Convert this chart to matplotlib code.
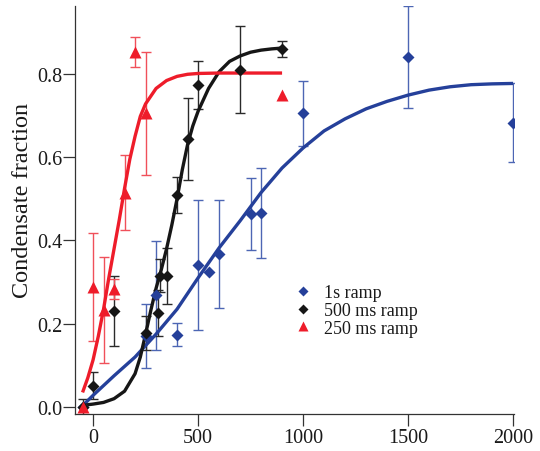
import numpy as np
import matplotlib
matplotlib.use("Agg")
import matplotlib.pyplot as plt

plt.rcParams['font.family'] = ['Liberation Serif', 'DejaVu Serif']

# ---------------- data ----------------
# 1 s ramp (blue diamonds)
x_1s = [-50, 250, 300, 400, 500, 550, 600, 750, 800, 1000, 1500, 2000]
y_1s = [0.0, 0.17, 0.268, 0.174, 0.341, 0.325, 0.367, 0.464, 0.466, 0.705, 0.840, 0.683]
e_1s = [0.0, 0.077, 0.13, 0.028, 0.156, 0.0, 0.13, 0.086, 0.108, 0.078, 0.123, 0.095]

# 500 ms ramp (black diamonds)
x_500 = [-50, 0, 100, 250, 310, 320, 350, 400, 450, 500, 700, 900]
y_500 = [0.0, 0.051, 0.231, 0.178, 0.226, 0.315, 0.315, 0.509, 0.643, 0.773, 0.810, 0.860]
e_500 = [0.02, 0.032, 0.084, 0.04, 0.056, 0.04, 0.068, 0.044, 0.098, 0.057, 0.104, 0.02]

# 250 ms ramp (red triangles)
x_250 = [-50, 0, 50, 100, 150, 200, 250, 900]
y_250 = [0.0, 0.288, 0.233, 0.283, 0.515, 0.853, 0.705, 0.749]
e_250 = [0.0, 0.129, 0.128, 0.024, 0.09, 0.036, 0.147, 0.0]

# fitted curves
fit1s_x = [-50, 0, 100, 200, 300, 400, 500, 600, 700, 800, 900, 1000, 1100,
           1200, 1300, 1400, 1500, 1600, 1700, 1800, 1900, 2000]
fit1s_y = [0.003, 0.028, 0.075, 0.12, 0.175, 0.235, 0.31, 0.382, 0.447, 0.515,
           0.574, 0.622, 0.663, 0.692, 0.716, 0.734, 0.749, 0.761, 0.769, 0.774,
           0.776, 0.777]

fit500_x = [-50, 0, 50, 100, 150, 200, 225, 250, 275, 300, 325, 350, 375, 400,
            425, 450, 475, 500, 550, 600, 650, 700, 750, 800, 850, 900]
fit500_y = [0.004, 0.007, 0.011, 0.02, 0.038, 0.08, 0.12, 0.175, 0.232, 0.285,
            0.33, 0.38, 0.437, 0.5, 0.57, 0.63, 0.675, 0.71, 0.765, 0.805, 0.83,
            0.843, 0.852, 0.857, 0.86, 0.862]

fit250_x = [-50, -25, 0, 25, 50, 75, 100, 125, 150, 175, 200, 225, 250, 300,
            350, 400, 450, 500, 600, 700, 800, 900]
fit250_y = [0.035, 0.07, 0.113, 0.17, 0.235, 0.31, 0.38, 0.45, 0.525, 0.595,
            0.65, 0.698, 0.728, 0.765, 0.784, 0.794, 0.799, 0.801, 0.802, 0.802,
            0.802, 0.802]

labels = ["1s ramp", "500 ms ramp", "250 ms ramp"]
xticks = [0, 500, 1000, 1500, 2000]
yticks = [0.0, 0.2, 0.4, 0.6, 0.8]

# ---------------- style ----------------
BLUE = '#25409a'
BLUE_E = '#4d66b4'
BLACK = '#161616'
BLACK_E = '#2a2a2a'
RED = '#ee1c2a'
RED_E = '#f0505a'

W, H = 540, 452
fig = plt.figure(figsize=(W / 100, H / 100), dpi=100)
ax = fig.add_axes([75 / W, (H - 414.5) / H, (513.5 - 75) / W, (414.5 - 7) / H])


def errbars(x, y, e, color, z):
    x = np.asarray(x, float); y = np.asarray(y, float); e = np.asarray(e, float)
    m = e > 0
    ax.errorbar(x[m], y[m], yerr=e[m], fmt='none', ecolor=color, elinewidth=1.0,
                capsize=3.6, capthick=1.0, zorder=z)


errbars(x_1s, y_1s, e_1s, BLUE_E, 2)
errbars(x_500, y_500, e_500, BLACK_E, 2)
errbars(x_250, y_250, e_250, RED_E, 2)

ax.plot(fit1s_x, fit1s_y, color=BLUE, lw=2.4, zorder=3, solid_capstyle='butt')
ax.plot(fit500_x, fit500_y, color=BLACK, lw=2.4, zorder=3, solid_capstyle='butt')
ax.plot(fit250_x, fit250_y, color=RED, lw=2.4, zorder=3, solid_capstyle='butt')

h1, = ax.plot(x_1s, y_1s, 'D', color=BLUE, ms=6.3, mec='none', zorder=4, label=labels[0])
h2, = ax.plot(x_500, y_500, 'D', color=BLACK, ms=6.3, mec='none', zorder=4, label=labels[1])
h3, = ax.plot(x_250, y_250, '^', color=RED, ms=8.5, mec='none', zorder=5, label=labels[2])

ax.set_xlim(-86, 2002)
ax.set_ylim(-0.0156, 0.963)
ax.set_xticks(xticks)
ax.set_xticklabels([str(t) for t in xticks])
ax.set_yticks(yticks)
ax.set_yticklabels([f"{t:.1f}" for t in yticks])

for s in ['top', 'right']:
    ax.spines[s].set_visible(False)
for s in ['left', 'bottom']:
    ax.spines[s].set_linewidth(0.9)
    ax.spines[s].set_color('#333333')

ax.tick_params(axis='both', direction='out', length=8.3, width=0.9, color='#333333',
               labelsize=14.5, labelcolor='#1a1a1a')
ax.tick_params(axis='x', pad=2)
ax.tick_params(axis='y', pad=1)

ax.set_ylabel("Condensate fraction", fontsize=17.5, color='#1a1a1a')
ax.yaxis.set_label_coords(-0.095, 0.525)

leg = ax.legend(handles=[h1, h2, h3], loc='upper left',
                bbox_to_anchor=(294 / W, (H - 285) / H),
                bbox_transform=fig.transFigure, frameon=False, fontsize=13,
                handlelength=1.0, handletextpad=0.65, labelspacing=0.05,
                borderpad=0, borderaxespad=0, markerscale=0.8)
for t in leg.get_texts():
    t.set_color('#1a1a1a')

fig.savefig("out.png", dpi=100)
